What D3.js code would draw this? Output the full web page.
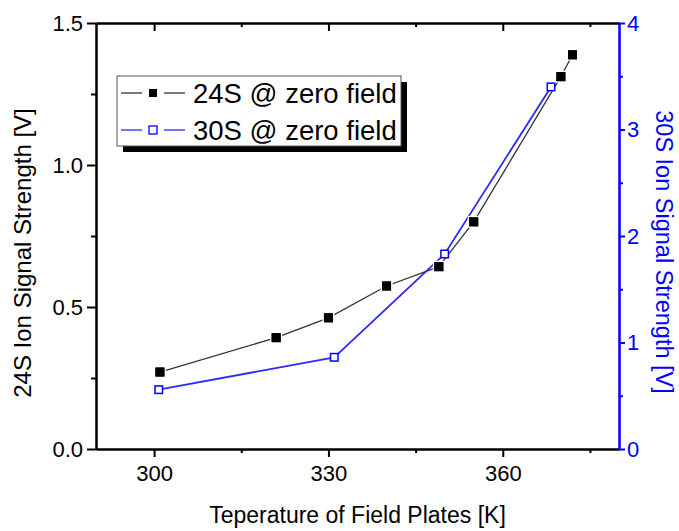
<!DOCTYPE html>
<head>
<meta charset="utf-8">
<title>Ion Signal vs Field Plate Temperature</title>
<script src="https://cdn.jsdelivr.net/npm/d3@7"></script>
<style>
	body { margin: 0; background: #fff; }
	text { font-family: "Liberation Sans", Arial, sans-serif; }
	.axis path, .axis line { fill: none; stroke-width: 2; }
</style>
</head>
<body>
<script>
var width = 679, height = 531;
var margin = {top: 23, right: 60, bottom: 82, left: 96};

// data
var temp24 = [301, 321, 330, 340, 349, 355, 370, 372];
var sig24  = [0.271, 0.392, 0.462, 0.574, 0.642, 0.800, 1.311, 1.388];
var temp30 = [300.8, 331, 350, 368.3];
var sig30  = [0.557, 0.861, 1.831, 3.40];

var xTicks = [300, 330, 360], xMinor = [315, 345, 375];
var yLTicks = [0, 0.5, 1.0, 1.5], yLMinor = [0.25, 0.75, 1.25];
var yRTicks = [0, 1, 2, 3, 4], yRMinor = [0.5, 1.5, 2.5, 3.5];

var blue = "#0000ff", lineBlue = "#2a2aff", lineBlack = "#333";

var svg = d3.select("body").append("svg")
	.attr("width", width)
	.attr("height", height);

var x = d3.scaleLinear().domain([290, 380]).range([margin.left, width - margin.right]);
var yL = d3.scaleLinear().domain([0, 1.5]).range([height - margin.bottom, margin.top]);
var yR = d3.scaleLinear().domain([0, 4]).range([height - margin.bottom, margin.top]);

var x0 = margin.left, x1 = width - margin.right;
var y0 = height - margin.bottom, y1 = margin.top;

function axis(gen, tx, ty, color, fontSize) {
	var g = svg.append("g").attr("class", "axis")
		.attr("transform", "translate(" + tx + "," + ty + ")")
		.call(gen);
	g.selectAll("path, line").style("stroke", color);
	g.selectAll("text").style("fill", color).style("font-size", fontSize + "px");
	return g;
}

// bottom
axis(d3.axisBottom(x).tickValues(xTicks).tickSize(8).tickSizeOuter(0).tickPadding(8), 0, y0, "#000", 22);
axis(d3.axisBottom(x).tickValues(xMinor).tickSize(4).tickSizeOuter(0).tickFormat(""), 0, y0, "#000", 22);
// top (ticks inward)
axis(d3.axisBottom(x).tickValues(xTicks).tickSize(8).tickSizeOuter(0).tickFormat(""), 0, y1, "#000", 22);
axis(d3.axisBottom(x).tickValues(xMinor).tickSize(4).tickSizeOuter(0).tickFormat(""), 0, y1, "#000", 22);
// left
axis(d3.axisLeft(yL).tickValues(yLTicks).tickSize(9).tickSizeOuter(0).tickPadding(4).tickFormat(d3.format(".1f")), x0, 0, "#000", 22);
axis(d3.axisLeft(yL).tickValues(yLMinor).tickSize(5).tickSizeOuter(0).tickFormat(""), x0, 0, "#000", 22);
// right
axis(d3.axisRight(yR).tickValues(yRTicks).tickSize(6).tickSizeOuter(0).tickPadding(2).tickFormat(d3.format("d")), x1, 0, blue, 22);
axis(d3.axisRight(yR).tickValues(yRMinor).tickSize(4).tickSizeOuter(0).tickFormat(""), x1, 0, blue, 22);

// axis titles
svg.append("text")
	.attr("x", (x0 + x1) / 2).attr("y", 523)
	.attr("text-anchor", "middle")
	.style("font-size", "23px")
	.text("Teperature of Field Plates [K]");

svg.append("text")
	.attr("transform", "translate(31,253) rotate(-90)")
	.attr("text-anchor", "middle")
	.style("font-size", "24px")
	.text("24S Ion Signal Strength [V]");

svg.append("text")
	.attr("transform", "translate(656,252) rotate(90)")
	.attr("text-anchor", "middle")
	.style("font-size", "23.5px")
	.style("fill", blue)
	.text("30S Ion Signal Strength [V]");

// lines
var d24 = temp24.map(function(t, i) { return [t, sig24[i]]; });
var d30 = temp30.map(function(t, i) { return [t, sig30[i]]; });

svg.append("path").datum(d24)
	.attr("d", d3.line().x(function(d) { return x(d[0]); }).y(function(d) { return yL(d[1]); }))
	.style("fill", "none").style("stroke", lineBlack).style("stroke-width", 1.3);

svg.append("path").datum(d30)
	.attr("d", d3.line().x(function(d) { return x(d[0]); }).y(function(d) { return yR(d[1]); }))
	.style("fill", "none").style("stroke", lineBlue).style("stroke-width", 1.8);

// markers, white halo gives the small gaps around the squares
var s = 9;
svg.selectAll(".m24").data(d24).enter().append("rect")
	.attr("x", function(d) { return x(d[0]) - s / 2; })
	.attr("y", function(d) { return yL(d[1]) - s / 2; })
	.attr("width", s).attr("height", s)
	.style("fill", "#000").style("stroke", "#fff").style("stroke-width", 3)
	.style("paint-order", "stroke");
svg.selectAll(".m24b").data(d24).enter().append("rect")
	.attr("x", function(d) { return x(d[0]) - s / 2; })
	.attr("y", function(d) { return yL(d[1]) - s / 2; })
	.attr("width", s).attr("height", s)
	.style("fill", "#000");

svg.selectAll(".m30").data(d30).enter().append("rect")
	.attr("x", function(d) { return x(d[0]) - s / 2 + 0.75; })
	.attr("y", function(d) { return yR(d[1]) - s / 2 + 0.75; })
	.attr("width", s - 1.5).attr("height", s - 1.5)
	.style("fill", "#fff").style("stroke", blue).style("stroke-width", 1.5);

// legend
var lg = svg.append("g");
lg.append("rect").attr("x", 123).attr("y", 82).attr("width", 284).attr("height", 70).style("fill", "#000");
lg.append("rect").attr("x", 117).attr("y", 76).attr("width", 284).attr("height", 70)
	.style("fill", "#fff").style("stroke", "#555").style("stroke-width", 1);

var legendItems = [
	{label: "24S @ zero field", color: lineBlack, fill: "#000", stroke: "#000", y: 93},
	{label: "30S @ zero field", color: lineBlue, fill: "#fff", stroke: blue, y: 130}
];
legendItems.forEach(function(it) {
	lg.append("line").attr("x1", 121).attr("x2", 142).attr("y1", it.y).attr("y2", it.y)
		.style("stroke", it.color).style("stroke-width", 1.3);
	lg.append("line").attr("x1", 164).attr("x2", 185).attr("y1", it.y).attr("y2", it.y)
		.style("stroke", it.color).style("stroke-width", 1.3);
	lg.append("rect").attr("x", 153 - 4).attr("y", it.y - 4).attr("width", 8).attr("height", 8)
		.style("fill", it.fill).style("stroke", it.stroke).style("stroke-width", it.fill == "#fff" ? 1.3 : 0);
	lg.append("text").attr("x", 193).attr("y", it.y + 9.5)
		.style("font-size", "27.5px")
		.text(it.label);
});
</script>
</body>
